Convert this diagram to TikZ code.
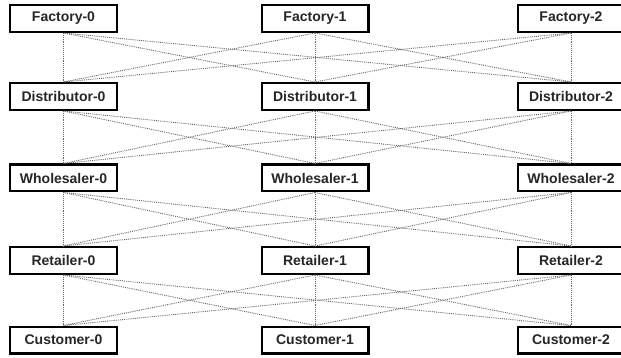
\documentclass[tikz,border=0pt]{standalone}
\usepackage{fontspec}
\setmainfont{Liberation Sans}
\usetikzlibrary{positioning}
\tikzset{member/.style={draw, line width=2.4pt, minimum width=106.6pt, minimum height=26.6pt,
    inner sep=0pt, text=black!85, font=\bfseries\fontsize{14}{16}\selectfont},
  link/.style={densely dotted, line width=0.9pt, black!60}
}

\begin{document}
\begin{tikzpicture}[x=1pt, y=1pt, node distance=80pt, on grid]
      \clip (0,0) rectangle (621,-358);
      \node[member] (f0) at (63.5,-18.5)      {Factory-0};
      \node[member] (f1) [right=251.5pt of f0] {Factory-1};
      \node[member] (f2) [right=256pt of f1]   {Factory-2};
      \node[member] (d0) [below=78pt of f0]    {Distributor-0};
      \node[member] (d1) [below=78pt of f1]    {Distributor-1};
      \node[member] (d2) [below=78pt of f2]    {Distributor-2};
      \node[member] (w0) [below=81.5pt of d0]  {Wholesaler-0};
      \node[member] (w1) [below=81.5pt of d1]  {Wholesaler-1};
      \node[member] (w2) [below=81.5pt of d2]  {Wholesaler-2};
      \node[member] (r0) [below=82.5pt of w0]  {Retailer-0};
      \node[member] (r1) [below=82.5pt of w1]  {Retailer-1};
      \node[member] (r2) [below=82.5pt of w2]  {Retailer-2};
      \node[member] (c0) [below=79.5pt of r0]  {Customer-0};
      \node[member] (c1) [below=79.5pt of r1]  {Customer-1};
      \node[member] (c2) [below=79.5pt of r2]  {Customer-2};

      \path[link] (f0.south) edge (d0.north) edge (d1.north) edge (d2.north)
                  (f1.south) edge (d0.north) edge (d1.north) edge (d2.north)
                  (f2.south) edge (d0.north) edge (d1.north) edge (d2.north)
                  (d0.south) edge (w0.north) edge (w1.north) edge (w2.north)
                  (d1.south) edge (w0.north) edge (w1.north) edge (w2.north)
                  (d2.south) edge (w0.north) edge (w1.north) edge (w2.north)
                  (w0.south) edge (r0.north) edge (r1.north) edge (r2.north)
                  (w1.south) edge (r0.north) edge (r1.north) edge (r2.north)
                  (w2.south) edge (r0.north) edge (r1.north) edge (r2.north)
                  (r0.south) edge (c0.north) edge (c1.north) edge (c2.north)
                  (r1.south) edge (c0.north) edge (c1.north) edge (c2.north)
                  (r2.south) edge (c0.north) edge (c1.north) edge (c2.north);
    \end{tikzpicture}
\end{document}
